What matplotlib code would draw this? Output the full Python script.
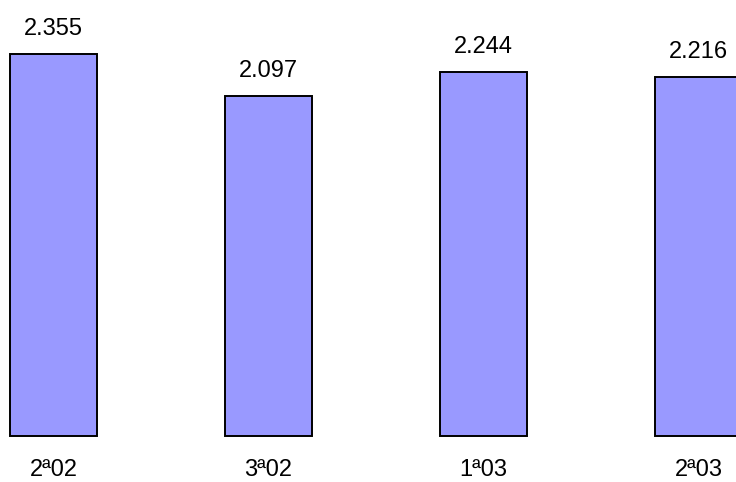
import matplotlib
matplotlib.use("Agg")
import matplotlib.pyplot as plt

categories = ["2ª02", "3ª02", "1ª03", "2ª03"]
values = [2.355, 2.097, 2.244, 2.216]
value_labels = ["2.355", "2.097", "2.244", "2.216"]

plt.rcParams['font.family'] = ['Liberation Sans', 'DejaVu Sans']

fig = plt.figure(figsize=(7.36, 4.82), dpi=100)
ax = fig.add_axes([0, 0, 1, 1])
x = list(range(len(values)))
ax.bar(x, values, width=0.405, color="#9999FF", edgecolor="black", linewidth=1.4)

for xi, v, lab, cat in zip(x, values, value_labels, categories):
    ax.annotate(lab, (xi, v), xytext=(0, 19), textcoords="offset pixels",
                ha="center", va="baseline", fontsize=17)
    ax.annotate(cat, (xi, 0), xytext=(0, -40), textcoords="offset pixels",
                ha="center", va="baseline", fontsize=17)

ax.set_xlim(-0.249, 3.174)
ax.set_ylim(-0.2836, 2.688)
ax.axis("off")

fig.savefig("out.png", dpi=100)
